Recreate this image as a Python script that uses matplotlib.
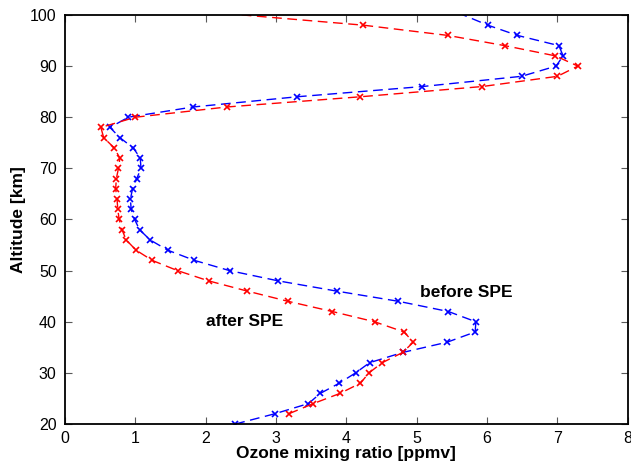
import numpy as np
import matplotlib.pyplot as plt

plt.rcParams.update({
    "font.family": ["Liberation Sans", "DejaVu Sans"],
    "font.size": 11})

# altitude grid [km]
alt_before = [20, 22, 24, 26, 28, 30, 32, 34, 36, 38, 40, 42, 44, 46, 48, 50,
              52, 54, 56, 58, 60, 62, 64, 66, 68, 70, 72, 74, 76, 78, 80,
              82, 84, 86, 88, 90, 92, 94, 96, 98, 102]
ozone_before = [2.42, 2.98, 3.46, 3.63, 3.90, 4.13, 4.33, 4.80, 5.43, 5.83, 5.84,
                5.45, 4.74, 3.86, 3.03, 2.34, 1.84, 1.46, 1.21, 1.06, 0.99,
                0.94, 0.93, 0.96, 1.02, 1.08, 1.07, 0.97, 0.78, 0.64, 0.90,
                1.82, 3.30, 5.08, 6.49, 6.98, 7.08, 7.02, 6.43, 6.01, 5.31]

alt_after = [22, 24, 26, 28, 30, 32, 34, 36, 38, 40, 42, 44, 46, 48, 50,
             52, 54, 56, 58, 60, 62, 64, 66, 68, 70, 72, 74, 76, 78, 80,
             82, 84, 86, 88, 90, 92, 94, 96, 98, 102]
ozone_after = [3.18, 3.53, 3.91, 4.20, 4.32, 4.51, 4.80, 4.95, 4.82, 4.40,
               3.80, 3.17, 2.59, 2.04, 1.60, 1.24, 1.01, 0.87, 0.81, 0.77,
               0.75, 0.74, 0.72, 0.73, 0.76, 0.78, 0.70, 0.55, 0.51, 1.00,
               2.30, 4.20, 5.93, 7.00, 7.29, 6.97, 6.25, 5.44, 4.24, 0.80]

fig = plt.figure(figsize=(6.31, 4.67), dpi=100)
ax = fig.add_axes([0.103, 0.092, 0.892, 0.876])

dash = (0, (7, 4))
ax.plot(ozone_before, alt_before, color='blue', linestyle=dash, linewidth=1.0,
        marker='x', markersize=5, markeredgewidth=1.2)
ax.plot(ozone_after, alt_after, color='red', linestyle=dash, linewidth=1.0,
        marker='x', markersize=5, markeredgewidth=1.2)

ax.text(5.7, 45.8, 'before SPE', fontweight='bold', fontsize=12.5,
        ha='center', va='center')
ax.text(2.55, 40.0, 'after SPE', fontweight='bold', fontsize=12.5,
        ha='center', va='center')

ax.set_xlim(0, 8)
ax.set_ylim(20, 100)
ax.set_xticks(np.arange(0, 9, 1))
ax.set_yticks(np.arange(20, 101, 10))
ax.tick_params(direction='in', length=5, top=True, right=True,
               labelsize=11.5, color='0.35')
ax.tick_params(axis='x', pad=5)
ax.tick_params(axis='y', pad=6)
for side in ax.spines.values():
    side.set_linewidth(1.3)

ax.set_xlabel('Ozone mixing ratio [ppmv]', fontweight='bold', fontsize=12.5,
              labelpad=0)
ax.set_ylabel('Altitude [km]', fontweight='bold', fontsize=12.5, labelpad=3)

fig.savefig('out.png', dpi=100)
